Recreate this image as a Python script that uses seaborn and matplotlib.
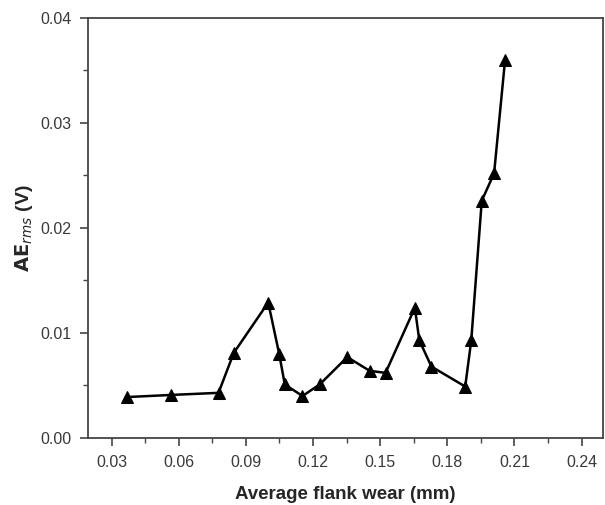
import matplotlib
matplotlib.use("Agg")
import matplotlib.pyplot as plt
import seaborn as sns
import pandas as pd
from matplotlib.ticker import AutoMinorLocator

flank_wear = [0.0371, 0.0567, 0.0778, 0.0846, 0.1000, 0.1049, 0.1074, 0.1153,
              0.1230, 0.1353, 0.1453, 0.1524, 0.1655, 0.1675, 0.1729, 0.1880,
              0.1907, 0.1954, 0.2009, 0.2058]
ae_rms = [0.0039, 0.0041, 0.0043, 0.0081, 0.0129, 0.0080, 0.0051, 0.0040,
          0.0051, 0.0077, 0.0064, 0.0062, 0.0124, 0.0093, 0.0068, 0.0049,
          0.0093, 0.0226, 0.0252, 0.0360]
x_ticks = [0.03, 0.06, 0.09, 0.12, 0.15, 0.18, 0.21, 0.24]
y_ticks = [0.00, 0.01, 0.02, 0.03, 0.04]

df = pd.DataFrame({"wear": flank_wear, "ae": ae_rms})

sns.set_style("ticks")
plt.rcParams['font.family'] = ['Liberation Sans', 'DejaVu Sans']

fig = plt.figure(figsize=(6.05, 5.05), dpi=100)
ax = fig.add_axes([0.1455, 0.1327, 0.851, 0.8317])

sns.lineplot(data=df, x="wear", y="ae", sort=False, color="black", lw=1.8,
             marker="^", markersize=8, markeredgecolor="black",
             markerfacecolor="black", ax=ax)

ax.set_xlim(0.0195, 0.2495)
ax.set_ylim(0.0, 0.04)
ax.set_xticks(x_ticks)
ax.set_xticklabels([f"{t:.2f}" for t in x_ticks])
ax.set_yticks(y_ticks)
ax.set_yticklabels([f"{t:.2f}" for t in y_ticks])
ax.xaxis.set_minor_locator(AutoMinorLocator(2))
ax.yaxis.set_minor_locator(AutoMinorLocator(2))
ax.tick_params(which="major", direction="out", length=6, width=1.2,
               labelsize=11.5, labelcolor="#3a3a3a", color="#444444", pad=6)
ax.tick_params(which="minor", direction="out", length=3.5, width=1.0,
               color="#444444")
for s in ax.spines.values():
    s.set_visible(True)
    s.set_color("#444444")
    s.set_linewidth(1.3)

ax.set_xlabel("Average flank wear (mm)", fontsize=13.5, fontweight="bold",
              labelpad=12)
ax.set_ylabel(r"$\mathbf{AE}_{\mathit{rms}}$ (V)", fontsize=14,
              fontweight="bold", labelpad=4)

fig.savefig("out.png", dpi=100)
